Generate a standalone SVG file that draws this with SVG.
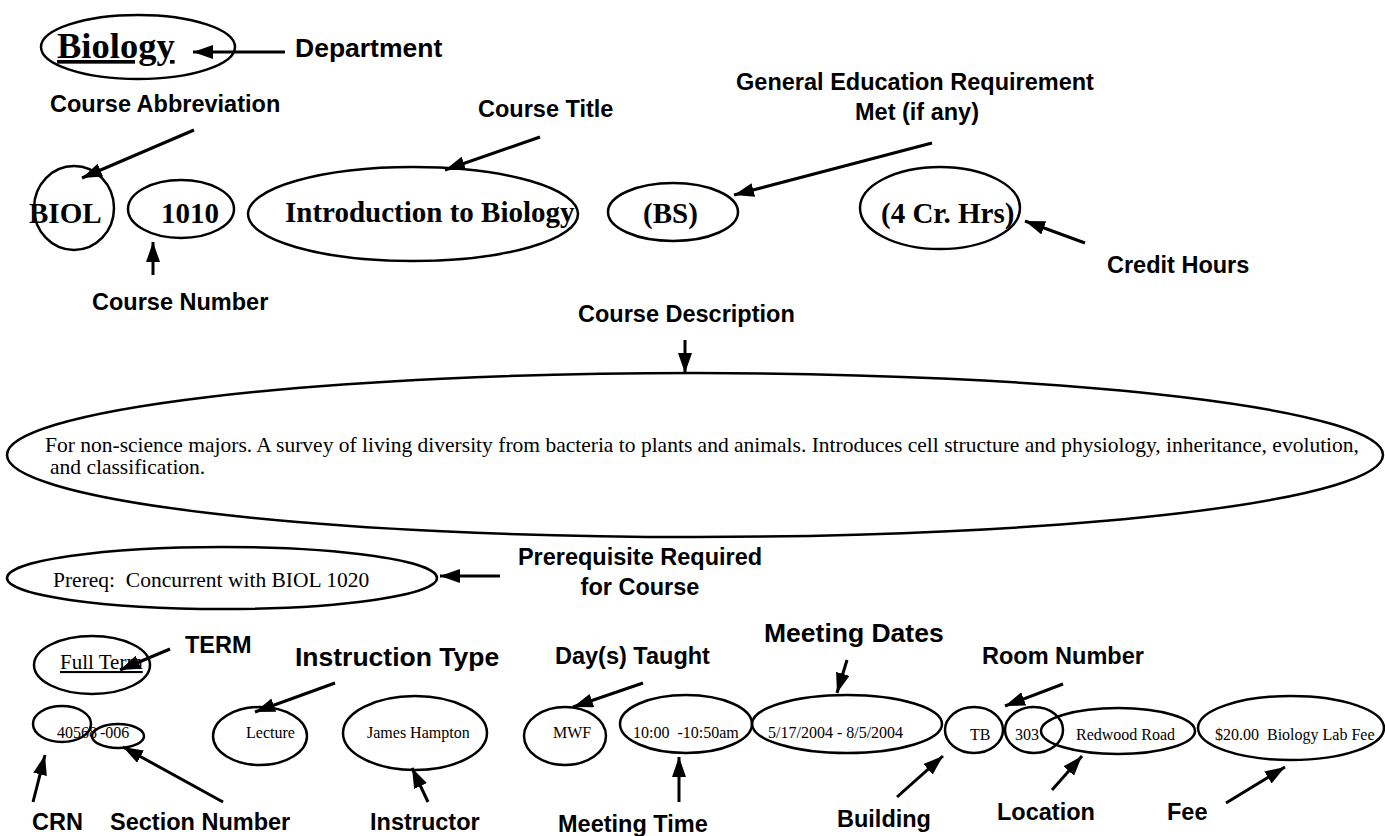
<svg xmlns="http://www.w3.org/2000/svg" width="1385" height="836" viewBox="0 0 1385 836">
<style>
.shape{fill:none;stroke:#000;stroke-width:2.5}
.lbl{font-family:"Liberation Sans",Arial,sans-serif;font-weight:bold;font-size:23.5px;fill:#000}
.big{font-size:26.5px}
.val{font-family:"Liberation Serif","Times New Roman",serif;font-weight:bold;font-size:29px;fill:#000}
.txt{font-family:"Liberation Serif","Times New Roman",serif;font-size:16px;fill:#000}
.conn line{stroke:#000;stroke-width:3;marker-end:url(#ah)}
</style>
<defs>
<marker id="ah" markerUnits="userSpaceOnUse" markerWidth="22" markerHeight="16" refX="20" refY="7" orient="auto">
<path d="M0,0 L20,7 L0,14 z" fill="#000"/>
</marker>
</defs>
<rect width="1385" height="836" fill="#fff"/>

<g id="department">
<ellipse class="shape" cx="138" cy="47" rx="97" ry="32"/>
<text class="val" x="57" y="58" style="font-size:36.5px" text-decoration="underline">Biology</text>
</g>
<g id="course-abbrev">
<ellipse class="shape" cx="74" cy="208" rx="40" ry="42"/>
<text class="val" x="29" y="223">BIOL</text>
</g>
<g id="course-number">
<ellipse class="shape" cx="181" cy="209" rx="53" ry="29"/>
<text class="val" x="161" y="223">1010</text>
</g>
<g id="course-title">
<ellipse class="shape" cx="413" cy="214" rx="165" ry="47"/>
<text class="val" x="285" y="222">Introduction to Biology</text>
</g>
<g id="gen-ed">
<ellipse class="shape" cx="673" cy="212" rx="65" ry="29"/>
<text class="val" x="643" y="223">(BS)</text>
</g>
<g id="credit-hours">
<ellipse class="shape" cx="940" cy="208" rx="80" ry="41"/>
<text class="val" x="881" y="223">(4 Cr. Hrs)</text>
</g>
<g id="description">
<ellipse class="shape" cx="695" cy="455" rx="688" ry="82"/>
<text class="txt" x="45" y="452" style="font-size:21.5px">For non-science majors. A survey of living diversity from bacteria to plants and animals. Introduces cell structure and physiology, inheritance, evolution,</text>
<text class="txt" x="50" y="474" style="font-size:21.5px">and classification.</text>
</g>
<g id="prereq">
<ellipse class="shape" cx="222" cy="578" rx="215" ry="31"/>
<text class="txt" x="53" y="587" style="font-size:21.5px" xml:space="preserve">Prereq:  Concurrent with BIOL 1020</text>
</g>
<g id="term">
<ellipse class="shape" cx="92" cy="665" rx="58" ry="29"/>
<text class="txt" x="60" y="669" style="font-size:21px" text-decoration="underline">Full Term</text>
</g>
<g id="crn">
<ellipse class="shape" cx="62" cy="724" rx="29" ry="18"/>
<text class="txt" x="57" y="738">40568</text>
</g>
<g id="section">
<ellipse class="shape" cx="118" cy="736" rx="26" ry="12"/>
<text class="txt" x="100" y="738">-006</text>
</g>
<g id="instr-type">
<ellipse class="shape" cx="260" cy="736" rx="47" ry="29"/>
<text class="txt" x="246" y="738">Lecture</text>
</g>
<g id="instructor">
<ellipse class="shape" cx="415" cy="733" rx="72" ry="37"/>
<text class="txt" x="367" y="738">James Hampton</text>
</g>
<g id="days">
<ellipse class="shape" cx="565" cy="736" rx="41" ry="29"/>
<text class="txt" x="553" y="738">MWF</text>
</g>
<g id="time">
<ellipse class="shape" cx="686" cy="724" rx="66" ry="29"/>
<text class="txt" x="633" y="738" xml:space="preserve">10:00  -10:50am</text>
</g>
<g id="dates">
<ellipse class="shape" cx="847" cy="724" rx="95" ry="29"/>
<text class="txt" x="768" y="738">5/17/2004 - 8/5/2004</text>
</g>
<g id="building">
<ellipse class="shape" cx="974" cy="730" rx="29" ry="23"/>
<text class="txt" x="970" y="740">TB</text>
</g>
<g id="room">
<ellipse class="shape" cx="1034" cy="730" rx="29" ry="23"/>
<text class="txt" x="1015" y="740">303</text>
</g>
<g id="location">
<ellipse class="shape" cx="1118" cy="731" rx="77" ry="23"/>
<text class="txt" x="1076" y="740">Redwood Road</text>
</g>
<g id="fee">
<ellipse class="shape" cx="1291" cy="728" rx="93" ry="32"/>
<text class="txt" x="1215" y="740" xml:space="preserve">$20.00  Biology Lab Fee</text>
</g>

<g id="labels">
<text class="lbl" x="295" y="57" style="font-size:26.5px">Department</text>
<text class="lbl" x="50" y="112">Course Abbreviation</text>
<text class="lbl" x="478" y="117">Course Title</text>
<text class="lbl" x="915" y="90" text-anchor="middle">General Education Requirement</text>
<text class="lbl" x="917" y="120" text-anchor="middle">Met (if any)</text>
<text class="lbl" x="1107" y="273">Credit Hours</text>
<text class="lbl" x="92" y="310">Course Number</text>
<text class="lbl" x="578" y="322">Course Description</text>
<text class="lbl" x="640" y="565" text-anchor="middle">Prerequisite Required</text>
<text class="lbl" x="640" y="595" text-anchor="middle">for Course</text>
<text class="lbl" x="185" y="653">TERM</text>
<text class="lbl big" x="295" y="666">Instruction Type</text>
<text class="lbl" x="555" y="664">Day(s) Taught</text>
<text class="lbl big" x="764" y="642">Meeting Dates</text>
<text class="lbl" x="982" y="664">Room Number</text>
<text class="lbl" x="32" y="830">CRN</text>
<text class="lbl" x="110" y="830">Section Number</text>
<text class="lbl" x="370" y="830">Instructor</text>
<text class="lbl" x="558" y="832">Meeting Time</text>
<text class="lbl" x="837" y="827">Building</text>
<text class="lbl" x="997" y="820">Location</text>
<text class="lbl" x="1167" y="820">Fee</text>
</g>

<g id="connectors" class="conn">
<line x1="285" y1="52" x2="193" y2="52"/>
<line x1="194" y1="130" x2="82" y2="178"/>
<line x1="540" y1="137" x2="445" y2="170"/>
<line x1="932" y1="143" x2="734" y2="195"/>
<line x1="1085" y1="243" x2="1025" y2="221"/>
<line x1="153" y1="275" x2="153" y2="242"/>
<line x1="685" y1="340" x2="685" y2="373"/>
<line x1="500" y1="576" x2="440" y2="576"/>
<line x1="170" y1="649" x2="120" y2="670"/>
<line x1="335" y1="683" x2="255" y2="712"/>
<line x1="643" y1="683" x2="573" y2="707"/>
<line x1="847" y1="660" x2="837" y2="693"/>
<line x1="1063" y1="684" x2="1005" y2="706"/>
<line x1="33" y1="802" x2="45" y2="755"/>
<line x1="223" y1="802" x2="123" y2="747"/>
<line x1="428" y1="802" x2="412" y2="768"/>
<line x1="679" y1="802" x2="679" y2="757"/>
<line x1="897" y1="797" x2="943" y2="756"/>
<line x1="1052" y1="790" x2="1082" y2="756"/>
<line x1="1226" y1="803" x2="1285" y2="767"/>
</g>
</svg>
